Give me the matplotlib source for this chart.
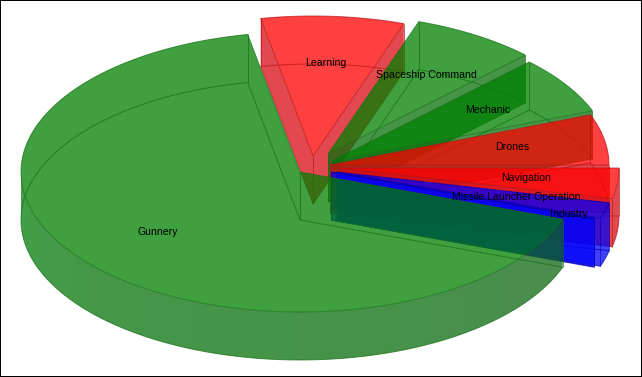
import numpy as np
import matplotlib
matplotlib.use("Agg")
import matplotlib.pyplot as plt
from matplotlib.patches import Polygon

# ---- data (degrees of the pie, clockwise from the Learning slice)
labels = ["Learning", "Spaceship Command", "Mechanic", "Drones", "Navigation",
          "Missile Launcher Operation", "Industry", "Gunnery"]
values = [29.8, 26.0, 24.0, 21.0, 12.7, 6.6, 0.4, 239.5]
base_colors = ["red", "green", "green", "red", "red", "blue", "blue", "green"]

# ---- geometry / style
W, H = 642, 377
START = 100.8
RX, RY, DEPTH = 279, 140, 48
ALPHA = 0.75
apex_x = [313, 328, 332, 330, 340, 337, 331, 300]
apex_y = [156, 154, 161, 165, 168, 172, 172, 172]
label_x = [326, 426, 488, 512, 526, 516, 569, 158]
label_y = [63, 75, 110, 147, 178, 197, 214, 232]
rgb = {"red": (255, 0, 0), "green": (0, 128, 0), "blue": (0, 0, 255)}
wall_shade = {"red": (220, 10, 20), "green": (8, 112, 10), "blue": (0, 0, 250)}
edge_col = {"red": (180, 20, 20), "green": (20, 110, 20), "blue": (0, 0, 180)}
rim_stops_x = [21, 45, 90, 300, 500, 565]
rim_stops_c = [(3, 128, 8), (5, 122, 10), (8, 116, 11), (8, 112, 10), (12, 106, 16), (15, 102, 22)]


def c(t):
    return tuple(v / 255 for v in t)


fig = plt.figure(figsize=(W / 100, H / 100), dpi=100, facecolor="white")
ax = fig.add_axes([0, 0, 1, 1])
ax.set_xticks([])
ax.set_yticks([])
for s in ax.spines.values():
    s.set_color("black")
    s.set_linewidth(1.44)

z = [10]


def nz():
    z[0] += 1
    return z[0]


def arc(cx, cy, a1, a0, dy=0.0, n=None):
    n = n or max(3, int(abs(a1 - a0) * 2))
    t = np.radians(np.linspace(a1, a0, n))
    return np.c_[cx + RX * np.cos(t), cy - RY * np.sin(t) + dy]


def face(pts, col):
    ax.add_patch(Polygon(pts, closed=True, fc=col, ec="none", alpha=ALPHA, zorder=nz()))


angle = START
for i, (lab, val, name) in enumerate(zip(labels, values, base_colors)):
    a1, a0 = angle, angle - val
    angle = a0
    cx, cy = apex_x[i], apex_y[i]
    top = arc(cx, cy, a1, a0)
    bot = arc(cx, cy, a1, a0, DEPTH)
    p = (cx, cy)
    pb = (cx, cy + DEPTH)
    fc = c(rgb[name])
    wc = c(wall_shade[name])
    ec = c(edge_col[name])

    # front-facing radial walls
    if np.cos(np.radians(a1)) < 0:
        face([p, top[0], bot[0], pb], wc)
    if np.cos(np.radians(a0)) > 0:
        face([p, top[-1], bot[-1], pb], wc)

    # front-facing part of the rim
    for k in (-1, 0):
        wl, wh = max(a0, 180 + 360 * k), min(a1, 360 + 360 * k)
        if wl >= wh:
            continue
        q = np.r_[arc(cx, cy, wh, wl, 0, 200), arc(cx, cy, wl, wh, DEPTH, 200)]
        if val > 100:
            # slow left-to-right shading of the long rim
            xs = np.arange(q[:, 0].min(), q[:, 0].max() + 1)
            col = np.array([np.interp(xs, rim_stops_x, [s[j] for s in rim_stops_c]) for j in range(3)]).T / 255
            img = np.dstack([col[None, :, :], np.full((1, len(xs), 1), ALPHA)])
            im = ax.imshow(img, extent=(xs[0], xs[-1], q[:, 1].max(), q[:, 1].min()),
                           aspect="auto", interpolation="bilinear", zorder=nz())
            clip = Polygon(q, closed=True, transform=ax.transData)
            im.set_clip_path(clip)
        else:
            face(q, wc)

    # top face
    face(np.r_[[p], top], fc)

    # all edges, also of the hidden faces
    line = dict(color=ec, lw=0.7, alpha=0.7, solid_capstyle="butt", zorder=nz())
    ax.plot(*np.r_[[p], top, [p]].T, **line)
    ax.plot(*np.r_[[pb], bot, [pb]].T, **line)
    ax.plot([cx, cx], [cy, cy + DEPTH], **line)
    for pt, pt2 in ((top[0], bot[0]), (top[-1], bot[-1])):
        ax.plot([pt[0], pt2[0]], [pt[1], pt2[1]], **line)

for lab, x, y in zip(labels, label_x, label_y):
    ax.text(x, y, lab, ha="center", va="center", color="black", zorder=nz(),
            fontsize=7.6, family=["Liberation Sans", "DejaVu Sans"])

ax.set_xlim(0, W)
ax.set_ylim(H, 0)
fig.savefig("out.png", dpi=100, facecolor="white")
